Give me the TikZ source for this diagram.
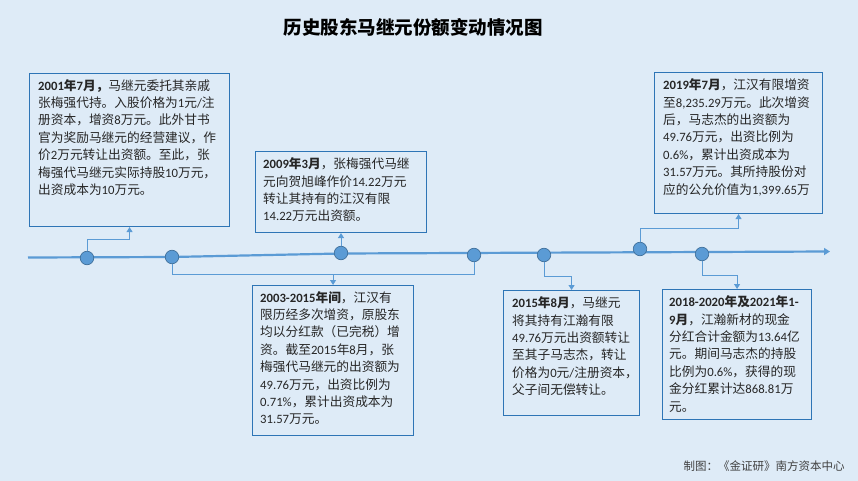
\documentclass[tikz,border=0pt]{standalone}
\usepackage{fontspec}
\setmainfont{Carlito}
\newfontfamily\cjkf{Noto Sans CJK SC}
\newfontfamily\latf{Carlito}
\usetikzlibrary{arrows.meta}
\XeTeXinterchartokenstate=1
\newXeTeXintercharclass\cjkcls
\newcount\cjkcnt
\def\setcjkrange#1#2{\cjkcnt=#1\relax\loop\XeTeXcharclass\cjkcnt=\cjkcls\relax\ifnum\cjkcnt<#2\relax\advance\cjkcnt by 1\relax\repeat}
\setcjkrange{"3000}{"303F}
\setcjkrange{"4E00}{"9FFF}
\setcjkrange{"FF00}{"FFEF}
\XeTeXinterchartoks 0 \cjkcls = {\cjkf}
\XeTeXinterchartoks 4095 \cjkcls = {\cjkf}
\XeTeXinterchartoks \cjkcls 0 = {\latf}
\definecolor{bg}{HTML}{DEEBF7}
\definecolor{bdr}{HTML}{2E75B6}
\definecolor{tl}{HTML}{5B9BD5}
\definecolor{dotb}{HTML}{41719C}
\definecolor{txtc}{HTML}{262626}
\tikzset{
  box/.style={draw=bdr, line width=1.1pt, rectangle, inner sep=0pt, anchor=north west},
  txt/.style={anchor=north west, inner sep=0pt, align=left, text=txtc, font=\fontsize{12.7}{17.4}\selectfont},
  dotn/.style={circle, fill=tl, draw=dotb, line width=0.7pt, minimum size=13.5pt, inner sep=0pt},
  conn/.style={draw=tl, line width=1pt, -{Triangle[width=6pt,length=5pt]}},
  seg/.style={draw=tl, line width=1pt},
}
\begin{document}
\begin{tikzpicture}[x=1pt,y=-1pt]
\useasboundingbox (0,0) rectangle (858,481);
\fill[bg] (0,0) rectangle (858,481);

\node[font=\bfseries\fontsize{18.5}{20}\selectfont, text=black] (title) at (413,27) {历史股东马继元份额变动情况图};

% timeline
\coordinate (tl0) at (28,257.5);
\coordinate (tla) at (172,257);
\coordinate (tlb) at (341,253.5);
\coordinate (tl1) at (830,251.5);
\draw[tl, line width=2.2pt, -{Triangle[width=7pt,length=6pt]}] (tl0) -- (tla) -- (tlb) -- (tl1);

\node[dotn] (c1) at (87,258) {};
\node[dotn] (c2) at (172,257) {};
\node[dotn] (c3) at (341,253) {};
\node[dotn] (c4) at (474,255) {};
\node[dotn] (c5) at (544,255) {};
\node[dotn] (c6) at (640,249) {};
\node[dotn] (c7) at (702,254) {};

% boxes
\node[box, minimum width=200pt, minimum height=153pt] (b1) at (29,73) {};
\node[box, minimum width=171pt, minimum height=81pt] (b2) at (255,151) {};
\node[box, minimum width=168pt, minimum height=141pt] (b3) at (654,72) {};
\node[box, minimum width=161pt, minimum height=150pt] (b4) at (252,285) {};
\node[box, minimum width=136pt, minimum height=125pt] (b5) at (503,290) {};
\node[box, minimum width=149pt, minimum height=130pt] (b6) at (662,289) {};

\node[txt] (t1) at ([xshift=9pt,yshift=-6pt]b1.north west) {\bfseries 2001年7月，\mdseries 马继元委托其亲戚\\
张梅强代持。入股价格为1元/注\\
册资本，增资8万元。此外甘书\\
官为奖励马继元的经营建议，作\\
价2万元转让出资额。至此，张\\
梅强代马继元实际持股10万元，\\
出资成本为10万元。};

\node[txt] (t2) at ([xshift=8pt,yshift=-6.5pt]b2.north west) {\bfseries 2009年3月\mdseries ，张梅强代马继\\
元向贺旭峰作价14.22万元\\
转让其持有的江汉有限\\
14.22万元出资额。};

\node[txt] (t3) at ([xshift=9pt,yshift=-6.5pt]b3.north west) {\bfseries 2019年7月\mdseries ，江汉有限增资\\
至8,235.29万元。此次增资\\
后，马志杰的出资额为\\
49.76万元，出资比例为\\
0.6\%，累计出资成本为\\
31.57万元。其所持股份对\\
应的公允价值为1,399.65万};

\node[txt] (t4) at ([xshift=8pt,yshift=-6pt]b4.north west) {\bfseries 2003-2015年间\mdseries ，江汉有\\
限历经多次增资，原股东\\
均以分红款（已完税）增\\
资。截至2015年8月，张\\
梅强代马继元的出资额为\\
49.76万元，出资比例为\\
0.71\%，累计出资成本为\\
31.57万元。};

\node[txt] (t5) at ([xshift=9pt,yshift=-6.5pt]b5.north west) {\bfseries 2015年8月\mdseries ，马继元\\
将其持有江瀚有限\\
49.76万元出资额转让\\
至其子马志杰，转让\\
价格为0元/注册资本，\\
父子间无偿转让。};

\node[txt] (t6) at ([xshift=7pt,yshift=-6.5pt]b6.north west) {\bfseries 2018-2020年及2021年1-\\
\bfseries 9月\mdseries ，江瀚新材的现金\\
分红合计金额为13.64亿\\
元。期间马志杰的持股\\
比例为0.6\%，获得的现\\
金分红累计达868.81万\\
元。};

% connectors
\draw[conn] (c1) |- ([yshift=-12pt]b1.south) -- (b1.south);
\draw[seg] (c2) |- ([yshift=11pt]b4.north);
\draw[conn] (c4) |- ([yshift=11pt]b4.north) -- (b4.north);
\draw[conn] (c3) -- (c3 |- b2.south);
\draw[conn] (c5) |- ([yshift=14pt]b5.north) -- (b5.north);
\draw[conn] (c6) |- ([yshift=-14pt]b3.south) -- (b3.south);
\draw[conn] (c7) |- ([yshift=14pt]b6.north) -- (b6.north);

\node[font=\fontsize{11.5}{13}\selectfont, text=black!75] (foot) at (764,466) {制图：《金证研》南方资本中心};
\end{tikzpicture}
\end{document}
